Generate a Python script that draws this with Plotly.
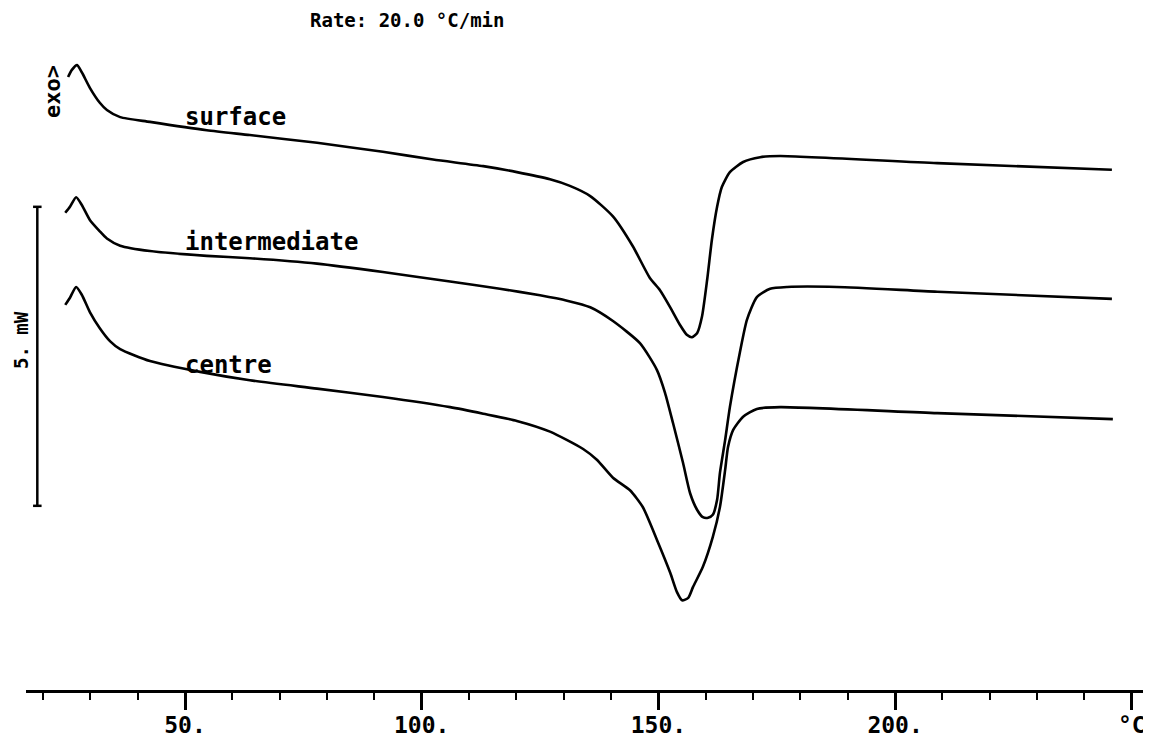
import plotly.graph_objects as go

# ---------------- data (temperature in °C, heat flow in mW, exo up) ----------------
surface_T = [25.3, 26.1, 27.2, 28.2, 29.9, 32.0, 33.5, 36.3, 42.6, 54.6, 63.7, 77.9, 91.8,
             102.4, 113.0, 120.1, 127.1, 131.3, 135.6, 140.4, 144.6, 148.2, 150.3, 152.5,
             154.6, 156.0, 157.1, 158.2, 159.2, 160.3, 161.3, 162.4, 163.4, 165.1, 167.9,
             171.5, 175.7, 208.9, 245.8]
surface_mW = [10.25, 10.37, 10.45, 10.33, 10.07, 9.82, 9.70, 9.58, 9.50, 9.36, 9.28, 9.15, 9.00,
              8.87, 8.76, 8.66, 8.54, 8.43, 8.26, 7.92, 7.42, 6.89, 6.69, 6.40,
              6.10, 5.94, 5.90, 5.97, 6.24, 6.86, 7.53, 8.08, 8.41, 8.66, 8.83,
              8.91, 8.93, 8.81, 8.70]

intermediate_T = [24.7, 25.7, 27.0, 28.2, 29.9, 32.0, 33.5, 36.3, 42.6, 54.6, 63.7, 77.9, 91.8,
                  106.0, 116.5, 125.0, 130.7, 135.6, 140.4, 146.1, 149.7, 151.4, 153.1, 155.2,
                  156.7, 158.2, 159.4, 160.5, 161.5, 162.4, 163.0, 164.1, 165.1, 167.2, 168.7,
                  170.8, 173.6, 177.2, 187.7, 208.9, 245.8]
intermediate_mW = [7.98, 8.08, 8.24, 8.11, 7.86, 7.67, 7.55, 7.43, 7.34, 7.26, 7.22, 7.13, 6.99,
                   6.83, 6.71, 6.60, 6.51, 6.40, 6.17, 5.80, 5.35, 4.97, 4.46, 3.80,
                   3.29, 3.01, 2.89, 2.88, 2.93, 3.18, 3.63, 4.18, 4.73, 5.64, 6.19,
                   6.57, 6.71, 6.74, 6.74, 6.66, 6.54]

centre_T = [24.7, 25.7, 27.0, 28.2, 29.9, 32.0, 34.2, 36.3, 42.6, 53.2, 63.7, 77.9, 91.8,
            106.0, 113.0, 120.1, 127.1, 134.1, 137.0, 140.4, 144.0, 146.7, 149.7, 152.5,
            153.9, 155.0, 156.3, 157.3, 159.4, 161.5, 163.0, 164.1, 164.7, 165.8, 167.9,
            170.8, 175.7, 208.9, 246.0]
centre_mW = [6.44, 6.56, 6.74, 6.61, 6.32, 6.05, 5.83, 5.70, 5.50, 5.32, 5.18, 5.04, 4.90,
             4.73, 4.62, 4.50, 4.32, 4.03, 3.85, 3.55, 3.34, 3.06, 2.51, 1.96,
             1.64, 1.50, 1.54, 1.72, 2.06, 2.56, 3.06, 3.68, 4.06, 4.35, 4.57,
             4.70, 4.73, 4.63, 4.53]

series_names = ["surface", "intermediate", "centre"]
label_T = [49.6, 49.6, 49.6]
label_mW = [9.58, 7.49, 5.43]

tick_values = [50, 100, 150, 200, 250]
tick_labels = ["50.", "100.", "150.", "200.", "°C"]

title_text = "Rate: 20.0 °C/min"
exo_text = "exo>"
scale_text = "5. mW"
scale_mW = 5.0
scale_top_mW = 8.08
scale_T = 18.8

# ---------------- layout helpers ----------------
# the page body has an 8 px margin, so the figure is drawn 8 px smaller
OFF = 8
W, H = 1151 - OFF, 738 - OFF
AXIS_Y = 690            # axis line position in the page
ML = 26 - OFF
MR, MT = 0, 0
MB = H - (AXIS_Y - OFF)
PW, PH = W - ML - MR, H - MT - MB
X_RANGE = [16.41, 254.06]
Y_RANGE = [0.0, PH / 59.8]


def px_x(px):
    return (px - 26) / PW


def px_y(py):
    return (AXIS_Y - py) / PH


FONT = "DejaVu Sans Mono"
BLACK = "#000000"

fig = go.Figure()
for T, mW in [(surface_T, surface_mW), (intermediate_T, intermediate_mW), (centre_T, centre_mW)]:
    fig.add_trace(go.Scatter(x=T, y=mW, mode="lines",
                             line=dict(color=BLACK, width=2.6, shape="spline", smoothing=0.6),
                             hoverinfo="skip", showlegend=False, cliponaxis=False))

annotations = []
for name, tx, ty in zip(series_names, label_T, label_mW):
    annotations.append(dict(x=tx, y=ty, xref="x", yref="y", text=name, showarrow=False,
                            xanchor="left", yanchor="middle",
                            font=dict(family=FONT, size=24, color=BLACK, weight="bold")))

annotations.append(dict(x=px_x(308), y=px_y(20), xref="paper", yref="paper", text=title_text,
                        showarrow=False, xanchor="left", yanchor="middle",
                        font=dict(family=FONT, size=19, color=BLACK, weight="bold")))
annotations.append(dict(x=px_x(52), y=px_y(92), xref="paper", yref="paper", text=exo_text,
                        showarrow=False, xanchor="center", yanchor="middle", textangle=-90,
                        font=dict(family=FONT, size=22, color=BLACK, weight="bold")))
annotations.append(dict(x=px_x(21), y=px_y(340), xref="paper", yref="paper", text=scale_text,
                        showarrow=False, xanchor="center", yanchor="middle", textangle=-90,
                        borderpad=0,
                        font=dict(family=FONT, size=19, color=BLACK, weight="bold")))

# 5 mW scale bar
sb_bot = scale_top_mW - scale_mW
shapes = [
    dict(type="line", xref="x", yref="y", x0=scale_T, x1=scale_T, y0=sb_bot, y1=scale_top_mW,
         line=dict(color=BLACK, width=2.5)),
    dict(type="line", xref="x", yref="y", x0=scale_T - 0.9, x1=scale_T + 0.9, y0=scale_top_mW,
         y1=scale_top_mW, line=dict(color=BLACK, width=2.5)),
    dict(type="line", xref="x", yref="y", x0=scale_T - 0.9, x1=scale_T + 0.9, y0=sb_bot,
         y1=sb_bot, line=dict(color=BLACK, width=2.5)),
]

fig.update_layout(
    width=W, height=H,
    margin=dict(l=ML, r=MR, t=MT, b=MB, pad=0, autoexpand=False),
    paper_bgcolor="white", plot_bgcolor="white",
    annotations=annotations, shapes=shapes,
    xaxis=dict(range=X_RANGE, showgrid=False, zeroline=False, automargin=False,
               showline=True, linecolor=BLACK, linewidth=2.5,
               tickmode="array", tickvals=tick_values, ticktext=tick_labels,
               ticks="outside", ticklen=17, tickwidth=2.5, tickcolor=BLACK,
               ticklabelstandoff=-4,
               tickfont=dict(family=FONT, size=23, color=BLACK, weight="bold"),
               minor=dict(tickmode="linear", tick0=0, dtick=10, ticks="outside",
                          ticklen=7, tickwidth=2.2, tickcolor=BLACK, showgrid=False)),
    yaxis=dict(range=Y_RANGE, visible=False, showgrid=False, zeroline=False, automargin=False),
)

fig.write_html("out.html")
